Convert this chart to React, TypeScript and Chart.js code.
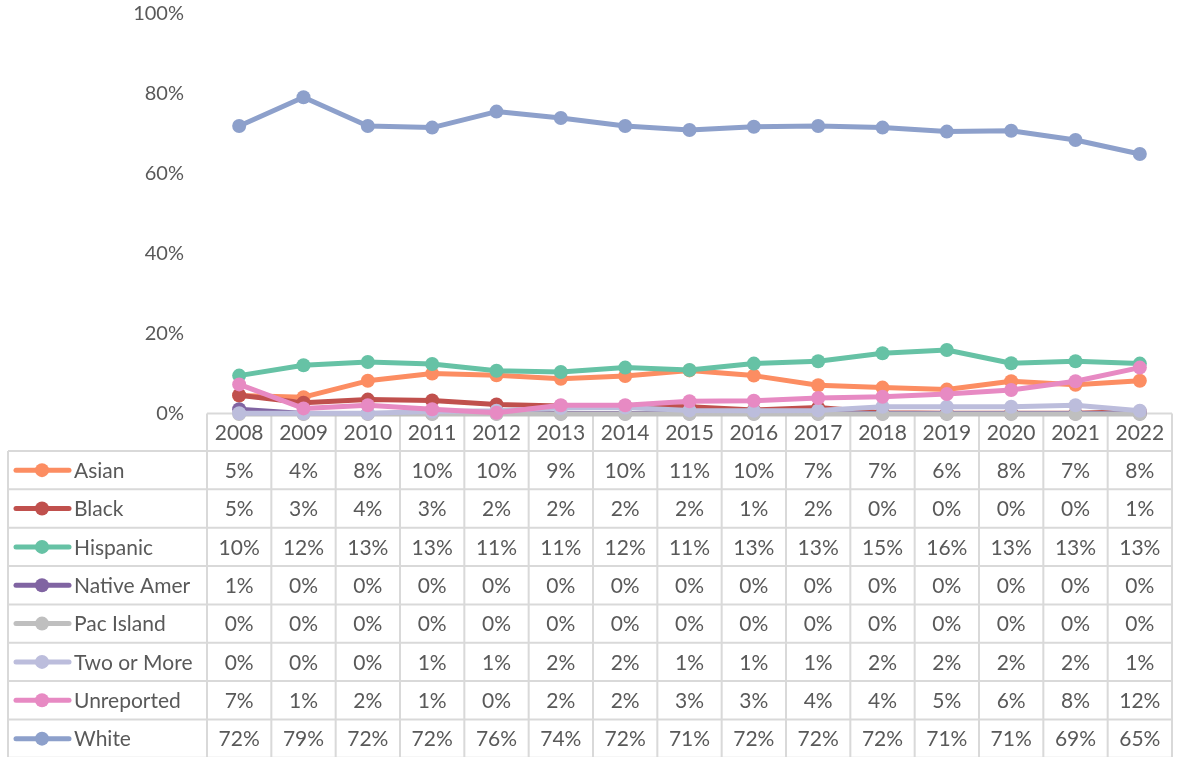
import React, { useEffect, useRef } from "react";
import { Chart, registerables } from "chart.js";

Chart.register(...registerables);

const years = ["2008", "2009", "2010", "2011", "2012", "2013", "2014", "2015", "2016", "2017", "2018", "2019", "2020", "2021", "2022"];

const seriesNames = ["Asian", "Black", "Hispanic", "Native Amer", "Pac Island", "Two or More", "Unreported", "White"];
const seriesColors = ["#fc8d62", "#c0504d", "#66c2a5", "#8064a2", "#bfbfbf", "#bcbddc", "#e78ac3", "#8da0cb"];

// Plotted values (percent)
const asian = [4.6, 4.2, 8.3, 10.1, 9.7, 8.8, 9.5, 10.9, 9.6, 7.2, 6.6, 6.1, 8.2, 7.3, 8.3];
const black = [4.7, 2.8, 3.6, 3.4, 2.4, 2.0, 2.0, 1.8, 1.0, 1.6, 0.3, 0.2, 0.2, 0.2, 0.6];
const hispanic = [9.6, 12.2, 13.0, 12.5, 10.8, 10.5, 11.6, 11.0, 12.6, 13.2, 15.2, 16.0, 12.7, 13.2, 12.6];
const nativeAmer = [1.2, 0.1, 0.1, 0.1, 0.1, 0.1, 0.1, 0.1, 0.1, 0.1, 0.1, 0.1, 0.1, 0.1, 0.1];
const pacIsland = [0, 0, 0, 0, 0, 0, 0, 0, 0, 0, 0, 0, 0, 0, 0];
const twoOrMore = [0.2, 0.2, 0.2, 0.6, 0.8, 1.5, 1.6, 0.9, 0.8, 0.9, 1.8, 1.8, 1.8, 2.2, 0.8];
const unreported = [7.4, 1.4, 2.2, 1.2, 0.3, 2.2, 2.2, 3.2, 3.3, 4.0, 4.3, 5.0, 6.0, 8.2, 11.6];
const white = [72.0, 79.2, 72.0, 71.6, 75.6, 74.0, 72.0, 71.0, 71.8, 72.0, 71.6, 70.6, 70.8, 68.5, 65.0];

// Data table labels (rounded, as shown)
const tAsian = ["5%", "4%", "8%", "10%", "10%", "9%", "10%", "11%", "10%", "7%", "7%", "6%", "8%", "7%", "8%"];
const tBlack = ["5%", "3%", "4%", "3%", "2%", "2%", "2%", "2%", "1%", "2%", "0%", "0%", "0%", "0%", "1%"];
const tHispanic = ["10%", "12%", "13%", "13%", "11%", "11%", "12%", "11%", "13%", "13%", "15%", "16%", "13%", "13%", "13%"];
const tNative = ["1%", "0%", "0%", "0%", "0%", "0%", "0%", "0%", "0%", "0%", "0%", "0%", "0%", "0%", "0%"];
const tPac = ["0%", "0%", "0%", "0%", "0%", "0%", "0%", "0%", "0%", "0%", "0%", "0%", "0%", "0%", "0%"];
const tTwo = ["0%", "0%", "0%", "1%", "1%", "2%", "2%", "1%", "1%", "1%", "2%", "2%", "2%", "2%", "1%"];
const tUnrep = ["7%", "1%", "2%", "1%", "0%", "2%", "2%", "3%", "3%", "4%", "4%", "5%", "6%", "8%", "12%"];
const tWhite = ["72%", "79%", "72%", "72%", "76%", "74%", "72%", "71%", "72%", "72%", "72%", "71%", "71%", "69%", "65%"];

const seriesValues = [asian, black, hispanic, nativeAmer, pacIsland, twoOrMore, unreported, white];
const tableRows = [tAsian, tBlack, tHispanic, tNative, tPac, tTwo, tUnrep, tWhite];

const yTicks = [0, 20, 40, 60, 80, 100];

const TEXT = "#595959";
const GRID = "#d9d9d9";
const FONT = "Lato, 'Open Sans', sans-serif";

const tablePlugin = {
  id: "dataTable",
  beforeDatasetsDraw(chart: any) {
    const { ctx, chartArea, scales } = chart;
    const xs = scales.x;
    const n = years.length;
    const colW = (xs.getPixelForValue(n - 1) - xs.getPixelForValue(0)) / (n - 1);
    const left = chartArea.left;
    const right = left + colW * n;
    const top = chartArea.bottom - 0.5;
    const headerH = 37.5;
    const rowH = 38.35;
    const tableLeft = 8;
    const rowsTop = top + headerH;
    const bottom = rowsTop + rowH * tableRows.length;

    ctx.save();
    ctx.strokeStyle = GRID;
    ctx.lineWidth = 2;
    ctx.beginPath();
    ctx.moveTo(left, top);
    ctx.lineTo(right, top);
    for (let k = 0; k <= tableRows.length; k++) {
      const y = rowsTop + k * rowH;
      ctx.moveTo(tableLeft, y);
      ctx.lineTo(right, y);
    }
    ctx.moveTo(tableLeft, rowsTop);
    ctx.lineTo(tableLeft, bottom);
    for (let j = 0; j <= n; j++) {
      const x = left + j * colW;
      ctx.moveTo(x, top);
      ctx.lineTo(x, bottom);
    }
    ctx.stroke();

    ctx.fillStyle = TEXT;
    ctx.font = `21px ${FONT}`;
    ctx.textAlign = "center";
    ctx.textBaseline = "middle";
    for (let j = 0; j < n; j++) {
      const cx = xs.getPixelForValue(j);
      ctx.fillText(years[j], cx, top + headerH / 2 + 1);
    }
    for (let r = 0; r < tableRows.length; r++) {
      const cy = rowsTop + r * rowH + rowH / 2 + 1;
      ctx.textAlign = "center";
      ctx.fillStyle = TEXT;
      for (let j = 0; j < n; j++) {
        ctx.fillText(tableRows[r][j], xs.getPixelForValue(j), cy);
      }
      // legend key
      const color = seriesColors[r];
      ctx.strokeStyle = color;
      ctx.lineWidth = 5;
      ctx.lineCap = "round";
      ctx.beginPath();
      ctx.moveTo(16, cy - 1);
      ctx.lineTo(69, cy - 1);
      ctx.stroke();
      ctx.fillStyle = color;
      ctx.beginPath();
      ctx.arc(42, cy - 1, 7, 0, Math.PI * 2);
      ctx.fill();
      ctx.fillStyle = TEXT;
      ctx.textAlign = "left";
      ctx.fillText(seriesNames[r], 74, cy);
    }
    ctx.restore();
  },
};

export default function App() {
  const ref = useRef<HTMLCanvasElement>(null);
  useEffect(() => {
    if (!ref.current) return;
    const chart = new Chart(ref.current, {
      type: "line",
      data: {
        labels: years,
        datasets: seriesNames.map((name, i) => ({
          label: name,
          data: seriesValues[i],
          borderColor: seriesColors[i],
          backgroundColor: seriesColors[i],
          borderWidth: 5,
          pointRadius: 7,
          pointBorderWidth: 0,
          pointHoverRadius: 7,
          borderJoinStyle: "round" as const,
          borderCapStyle: "round" as const,
          tension: 0,
          clip: false as any,
          order: 10 - i,
        })),
      },
      options: {
        responsive: false,
        animation: false,
        layout: { autoPadding: false, padding: { top: 14, right: 7, bottom: 343, left: 0 } },
        plugins: { legend: { display: false }, tooltip: { enabled: false } },
        scales: {
          x: { type: "category", display: false, offset: true },
          y: {
            min: 0,
            max: 100,
            afterFit: (s: any) => {
              s.width = 207;
              s.paddingTop = 0;
              s.paddingBottom = 0;
            },
            afterBuildTicks: (s: any) => {
              s.ticks = yTicks.map((v) => ({ value: v }));
            },
            grid: { display: false, drawTicks: false },
            border: { display: false },
            ticks: {
              padding: 23,
              color: TEXT,
              font: { family: FONT, size: 20 },
              callback: (v: any) => `${v}%`,
            },
          },
        },
      },
      plugins: [tablePlugin],
    });
    return () => chart.destroy();
  }, []);
  return (
    <div style={{ position: "absolute", left: 0, top: 0, width: 1179, height: 757, background: "#fff" }}>
      <canvas ref={ref} width={1179} height={757} />
    </div>
  );
}
